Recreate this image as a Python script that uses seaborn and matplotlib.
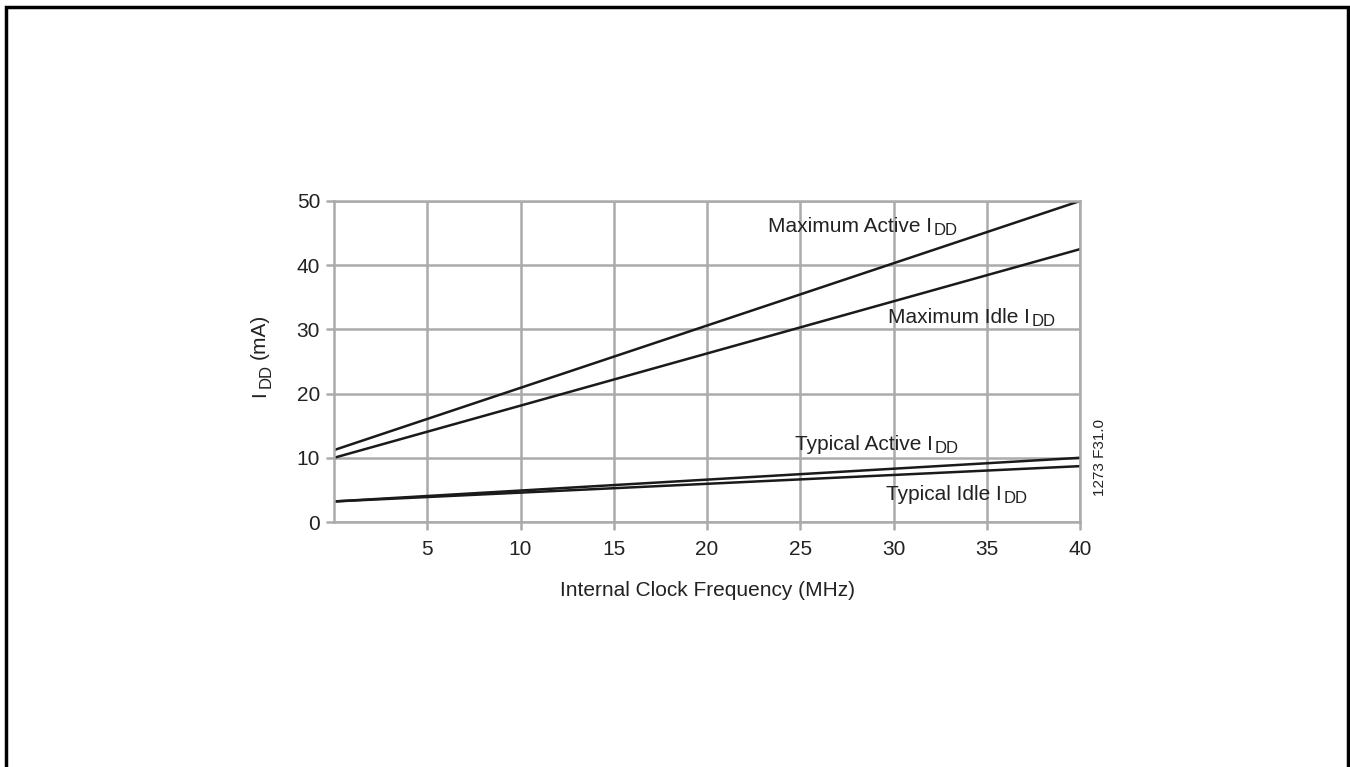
import matplotlib
matplotlib.use("Agg")
import matplotlib.pyplot as plt
import seaborn as sns
import pandas as pd
from matplotlib.patches import Rectangle

freq = [0, 40]
max_active = [11.2, 50.0]
max_idle = [10.0, 42.5]
typ_active = [3.2, 10.0]
typ_idle = [3.2, 8.7]
series_names = ["Maximum Active", "Maximum Idle", "Typical Active", "Typical Idle"]
x_ticks = [5, 10, 15, 20, 25, 30, 35, 40]
y_ticks = [0, 10, 20, 30, 40, 50]

sns.set_theme(style="white")
plt.rcParams['font.family'] = ['Liberation Sans', 'DejaVu Sans']

rows = []
for name, vals in zip(series_names, [max_active, max_idle, typ_active, typ_idle]):
    for f, v in zip(freq, vals):
        rows.append({"freq": f, "idd": v, "series": name})
df = pd.DataFrame(rows)

fig = plt.figure(figsize=(13.5, 7.67), dpi=100)
ax = fig.add_axes([334/1350, 1 - 522/767, (1080-334)/1350, (522-201)/767])

grid_c = "#ababab"
txt_c = "#222222"
fs = 15
sns.lineplot(data=df, x="freq", y="idd", units="series", estimator=None,
             color="#1a1a1a", linewidth=1.8, ax=ax, legend=False)

ax.set_xlim(0, 40)
ax.set_ylim(0, 50)
ax.set_xticks(x_ticks)
ax.set_yticks(y_ticks)
ax.grid(True, color=grid_c, linewidth=1.8)
ax.set_axisbelow(True)
for s in ax.spines.values():
    s.set_color(grid_c)
    s.set_linewidth(1.8)
ax.tick_params(axis="both", direction="out", length=6, width=1.8, color=grid_c,
               labelsize=fs, labelcolor=txt_c, bottom=True, left=True)
ax.tick_params(axis="y", pad=4)
ax.tick_params(axis="x", pad=7)
ax.set_xlabel("Internal Clock Frequency (MHz)", fontsize=fs, color=txt_c, labelpad=16)
ax.set_ylabel(" ", fontsize=fs)


def sub_label(x, y, main, sub):
    t = ax.text(x, y, main, fontsize=fs, color=txt_c, va="baseline")
    ax.annotate(sub, xy=(1, 0), xycoords=t, xytext=(1.5, 0.6),
                textcoords="offset points", fontsize=fs * 0.8, color=txt_c,
                va="baseline", ha="left")
    return t


sub_label(23.27, 45.2, "Maximum Active I", "DD")
sub_label(29.7, 31.0, "Maximum Idle I", "DD")
sub_label(24.7, 11.2, "Typical Active I", "DD")
sub_label(29.6, 3.4, "Typical Idle I", "DD")

# rotated y-axis label with subscript
rot = dict(rotation=90, rotation_mode="anchor", ha="left", va="baseline", color=txt_c)
fig.text(265/1350, 1 - 397/767, "I", fontsize=fs, **rot)
fig.text(271/1350, 1 - 388/767, "DD", fontsize=fs * 0.8, **rot)
fig.text(265/1350, 1 - 359/767, "(mA)", fontsize=fs, **rot)

fig.text(1100/1350, 1 - 458/767, "1273 F31.0", rotation=90, fontsize=11,
         color=txt_c, ha="center", va="center")

fig.patches.append(Rectangle((6/1350, -0.02), (1348-6)/1350, 1.02 - 7/767,
                             transform=fig.transFigure, fill=False,
                             edgecolor="black", linewidth=2.5))

fig.savefig("out.png", dpi=100)
